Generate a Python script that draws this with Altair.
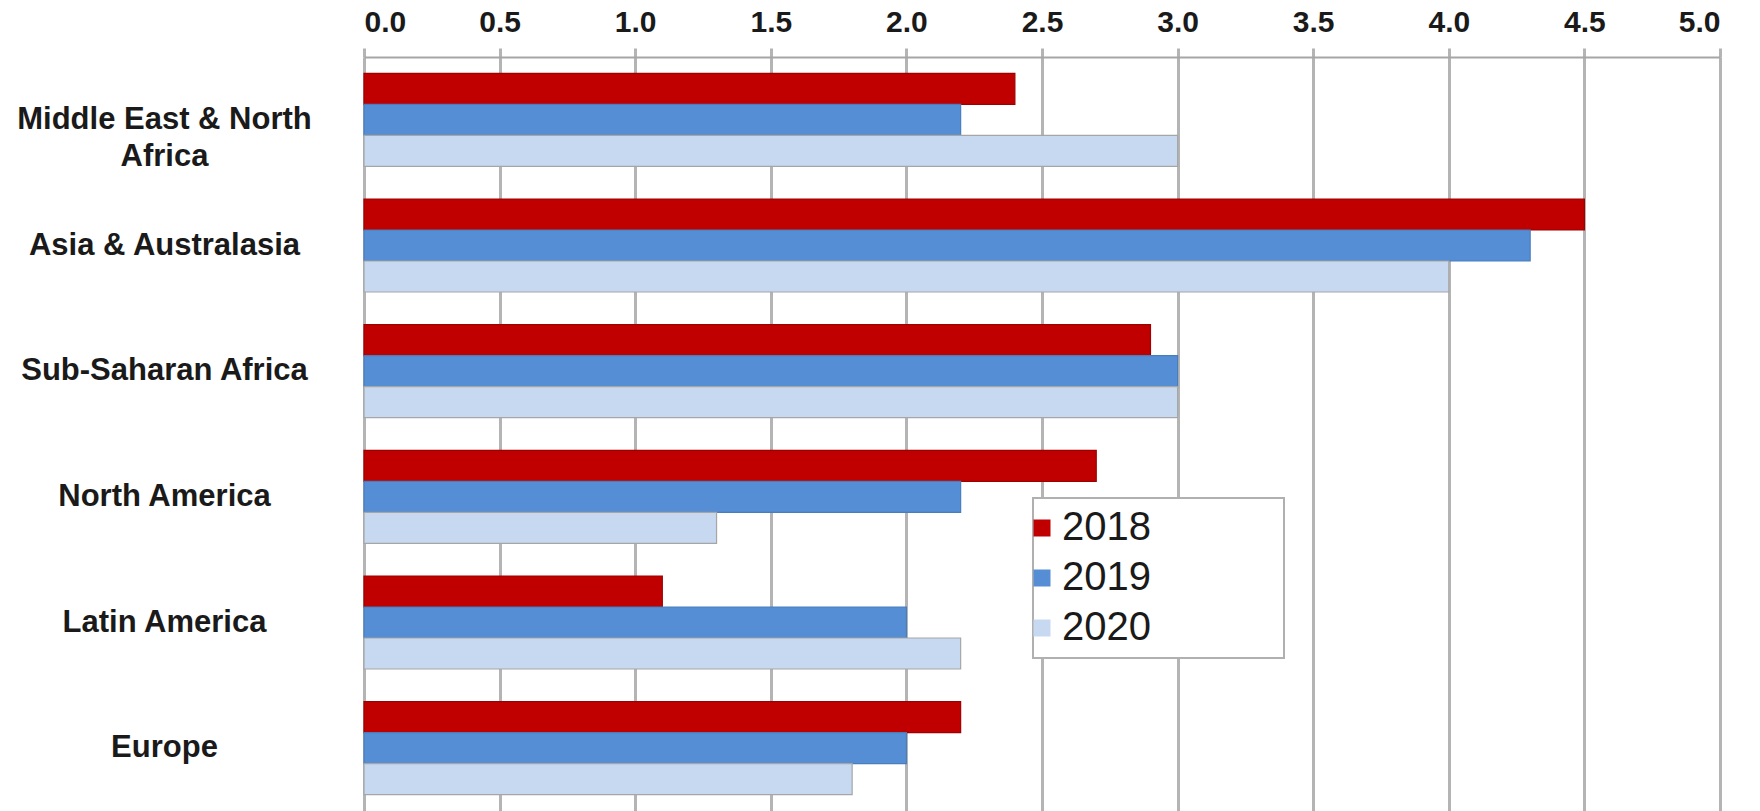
import altair as alt
import pandas as pd

# Regions (top to bottom) and the value for each year
regions = [
    "Middle East & North Africa",
    "Asia & Australasia",
    "Sub-Saharan Africa",
    "North America",
    "Latin America",
    "Europe",
]
years = ["2018", "2019", "2020"]
values_2018 = [2.4, 4.5, 2.9, 2.7, 1.1, 2.2]
values_2019 = [2.2, 4.3, 3.0, 2.2, 2.0, 2.0]
values_2020 = [3.0, 4.0, 3.0, 1.3, 2.2, 1.8]
x_ticks = [0.0, 0.5, 1.0, 1.5, 2.0, 2.5, 3.0, 3.5, 4.0, 4.5, 5.0]

fill_colors = ["#C00000", "#558ED5", "#C6D9F1"]
edge_colors = ["#9E0000", "#4A7EBB", "#A6A6A6"]

rows = []
for year, vals in zip(years, [values_2018, values_2019, values_2020]):
    for region, v in zip(regions, vals):
        rows.append({"region": region, "year": year, "value": v})
df = pd.DataFrame(rows)

grid_color = "#B4B4B4"

# legend labels are padded with non-breaking spaces (closed by a zero-width
# space so they are not trimmed) to give the legend frame its wide shape
legend_pad = "\u00a0" * 11 + "\u200b"

bars = alt.Chart(df).mark_bar(strokeWidth=1.2).encode(
    x=alt.X(
        "value:Q",
        scale=alt.Scale(domain=[0, 5], nice=False, zero=True),
        axis=alt.Axis(
            orient="top",
            values=x_ticks,
            format=".1f",
            title=None,
            grid=True,
            gridColor=grid_color,
            gridWidth=3,
            domain=True,
            domainColor="#A6A6A6",
            domainWidth=2,
            ticks=True,
            tickSize=9,
            tickColor=grid_color,
            tickWidth=3,
            labelFont="Liberation Sans",
            labelFontWeight="bold",
            labelFontSize=30,
            labelColor="#1A1A1A",
            labelPadding=11,
        ),
    ),
    y=alt.Y(
        "region:N",
        sort=regions,
        scale=alt.Scale(paddingInner=0.26, paddingOuter=0.13),
        axis=alt.Axis(
            title=None,
            domain=False,
            ticks=False,
            tickSize=0,
            grid=False,
            labelAlign="center",
            labelBaseline="middle",
            labelPadding=200,
            labelFont="Liberation Sans",
            labelFontWeight="bold",
            labelFontSize=31,
            labelColor="#1A1A1A",
            labelLineHeight=37,
            labelLimit=400,
            labelExpr="datum.value == 'Middle East & North Africa' ? ['Middle East & North', 'Africa'] : datum.value",
        ),
    ),
    yOffset=alt.YOffset(
        "year:N",
        sort=years,
        scale=alt.Scale(paddingInner=0, paddingOuter=0),
    ),
    color=alt.Color(
        "year:N",
        sort=years,
        scale=alt.Scale(domain=years, range=fill_colors),
        legend=alt.Legend(
            title=None,
            orient="none",
            legendX=669,
            legendY=441,
            symbolType="square",
            symbolSize=289,
            symbolStrokeWidth=0,
            symbolOffset=-21,
            labelFont="Liberation Sans",
            labelFontSize=40,
            labelColor="#1A1A1A",
            labelOffset=0,
            labelLimit=400,
            rowPadding=10,
            padding=10,
            fillColor="white",
            strokeColor="#B0B0B0",
            labelExpr=f"datum.label + '{legend_pad}'",
        ),
    ),
    stroke=alt.Stroke(
        "year:N",
        sort=years,
        scale=alt.Scale(domain=years, range=edge_colors),
        legend=None,
    ),
).properties(
    width=1356,
    height=754,
    autosize=alt.AutoSizeParams(type="none"),
    padding={"left": 364, "top": 57, "right": 40, "bottom": 0},
).configure_view(
    stroke=None
).configure_legend(
    strokeWidth=2
)

chart = bars
chart.save("out.html", embed_options={"renderer": "svg", "actions": False})
